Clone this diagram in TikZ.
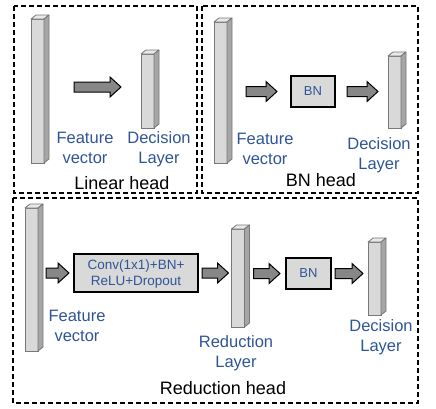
\documentclass[tikz,border=0pt]{standalone}
\usepackage{fontspec}
\setmainfont{Liberation Sans}
\usetikzlibrary{calc}

\definecolor{labelblue}{RGB}{47,85,151}
\definecolor{barfront}{RGB}{217,217,217}
\definecolor{bartop}{RGB}{232,232,232}
\definecolor{barside}{RGB}{166,166,166}
\definecolor{barline}{RGB}{120,120,120}
\definecolor{arrowgray}{RGB}{135,135,135}

\begin{document}
\begin{tikzpicture}[
            x = 1pt, y = -1pt,
            every node/.style={text depth=0pt},
            frame/.style={line width = 1.3pt, dash pattern=on 5pt off 3pt},
            bar/.style={draw=barline, fill=barfront, line width = .8pt, inner sep=0pt, outer sep=0pt, minimum width=13pt},
            barface/.style={draw=barline, line width = .8pt, line join=round},
            layer/.style={draw=black, fill=barfront, line width = 1.2pt, inner sep=0pt, outer sep=0pt},
            lab/.style={text=labelblue, align=center, font=\fontsize{16.5}{20}\selectfont},
            head/.style={font=\fontsize{18}{22}\selectfont},
            fat/.style={draw=black, fill=arrowgray, line width = 1pt, line join=miter,
                to path={let \p1=(\tikztostart), \p2=(\tikztotarget) in
                    (\x1,\y1+5pt) -- (\x2-11pt,\y1+5pt) -- (\x2-11pt,\y1+10pt) -- (\x2,\y1)
                    -- (\x2-11pt,\y1-10pt) -- (\x2-11pt,\y1-5pt) -- (\x1,\y1-5pt) -- cycle}},
            ]
        \useasboundingbox (0,0) rectangle (436,408);

        % frames
        \draw[frame] (14,6) rectangle (197,193);
        \draw[frame] (202,6) rectangle (418,193);
        \draw[frame] (13,198) rectangle (418,403);

        % linear head
        \node[bar, minimum height=144pt] (fv1) at (37.5,91) {};
        \node[bar, minimum height=74pt] (dl1) at (147.5,91) {};

        % bn head
        \node[bar, minimum height=141pt] (fv2) at (220.5,92.5) {};
        \node[layer, minimum width=44pt, minimum height=31pt, font=\fontsize{13}{15}\selectfont, text=labelblue] (bn2) at (313,91.5) {BN};
        \node[bar, minimum height=72pt] (dl2) at (394.5,92) {};

        % reduction head
        \node[bar, minimum height=143pt] (fv3) at (31.5,279.5) {};
        \node[layer, minimum width=124pt, minimum height=38pt, align=center, font=\fontsize{13.5}{16}\selectfont, text=labelblue] (conv3) at (136,273) {Conv(1x1)+BN+\\ReLU+Dropout};
        \node[bar, minimum height=98pt] (rl3) at (238,278) {};
        \node[layer, minimum width=45pt, minimum height=31pt, font=\fontsize{13}{15}\selectfont, text=labelblue] (bn3) at (308.5,273.5) {BN};
        \node[bar, minimum height=73pt] (dl3) at (374.5,278.5) {};

        \foreach \b in {fv1,dl1,fv2,dl2,fv3,rl3,dl3}{
            \draw[barface, fill=bartop] (\b.north west) -- ++(5pt,4pt) -- ([shift={(5pt,4pt)}]\b.north east) -- (\b.north east) -- cycle;
            \draw[barface, fill=barside] (\b.north east) -- ++(5pt,4pt) -- ([shift={(5pt,4pt)}]\b.south east) -- (\b.south east) -- cycle;
        }

        % arrows
        \draw[fat] ([shift={(30pt,4pt)}]fv1.east) to ([shift={(-20pt,4pt)}]dl1.west);
        \draw[fat] ([xshift=19pt]fv2.east |- bn2.west) to ([xshift=-14pt]bn2.west);
        \draw[fat] ([xshift=12pt]bn2.east) to ([xshift=-10pt]dl2.west);
        \draw[fat] ([xshift=8pt]fv3.east |- conv3.west) to ([xshift=-5pt]conv3.west);
        \draw[fat] ([xshift=4pt]conv3.east) to ([xshift=-3pt]rl3.west);
        \draw[fat] ([xshift=9pt]rl3.east |- bn3.west) to ([xshift=-6pt]bn3.west);
        \draw[fat] ([xshift=4pt]bn3.east) to ([xshift=-5pt]dl3.west);

        % labels
        \node[lab] (fvlab1) at (85,148) {Feature\\vector};
        \node[lab] (dllab1) at (159,148) {Decision\\Layer};
        \node[head] (lin) at (122,183) {Linear head};
        \node[lab] (fvlab2) at (265,148.5) {Feature\\vector};
        \node[lab] (dllab2) at (379,153.5) {Decision\\Layer};
        \node[head] (bnh) at (321,180) {BN head};
        \node[lab] (fvlab3) at (77,325.5) {Feature\\vector};
        \node[lab] (rllab3) at (236,351.5) {Reduction\\Layer};
        \node[lab] (dllab3) at (381,336) {Decision\\Layer};
        \node[head] (redh) at (223,388) {Reduction head};
    \end{tikzpicture}
\end{document}
